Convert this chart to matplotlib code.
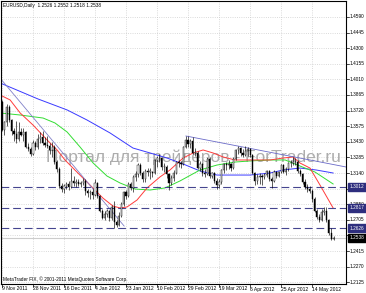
import matplotlib
matplotlib.use("Agg")
import matplotlib.pyplot as plt
from matplotlib.patches import Rectangle
import matplotlib.transforms as mtrans

# ---------------- data ----------------
opens = [1.3800,1.3540,1.3610,1.3750,1.3630,1.3530,1.3500,1.3460,1.3520,1.3490,
         1.3520,1.3380,1.3360,1.3320,1.3420,1.3380,1.3460,1.3470,1.3420,1.3400,
         1.3390,1.3350,1.3380,1.3240,1.3180,1.3020,1.2990,1.3020,1.3040,1.3010,
         1.3070,1.3050,1.3060,1.3040,1.3050,1.3070,1.2970,1.2950,1.2960,1.2940,
         1.3050,1.2930,1.2790,1.2720,1.2760,1.2790,1.2720,1.2820,1.2680,1.2660,
         1.2740,1.2850,1.2960,1.2930,1.3040,1.3000,1.3100,1.3130,1.3210,1.3140,
         1.3080,1.3160,1.3150,1.3150,1.3140,1.3260,1.3280,1.3280,1.3200,1.3200,
         1.3130,1.3050,1.3090,1.3140,1.3240,1.3230,1.3220,1.3380,1.3450,1.3410,
         1.3440,1.3330,1.3330,1.3190,1.3220,1.3140,1.3130,1.3270,1.3110,1.3140,
         1.3070,1.3030,1.3060,1.3170,1.3220,1.3210,1.3220,1.3190,1.3270,1.3350,
         1.3370,1.3330,1.3310,1.3340,1.3360,1.3310,1.3140,1.3070,1.3100,1.3110,
         1.3100,1.3120,1.3160,1.3080,1.3070,1.3150,1.3110,1.3150,1.3210,1.3150,
         1.3180,1.3230,1.3230,1.3240,1.3240,1.3160,1.3130,1.3060,1.3010,1.2990,
         1.2970,1.2900,1.2790,1.2730,1.2700,1.2780,1.2790,1.2700,1.2580,1.2526]
highs = [1.3815,1.3620,1.3780,1.3770,1.3640,1.3560,1.3620,1.3610,1.3560,1.3560,
         1.3530,1.3420,1.3380,1.3450,1.3440,1.3500,1.3520,1.3530,1.3470,1.3480,
         1.3420,1.3430,1.3400,1.3260,1.3200,1.3050,1.3040,1.3060,1.3070,1.3190,
         1.3110,1.3080,1.3080,1.3070,1.3090,1.3080,1.2990,1.2980,1.2990,1.3080,
         1.3060,1.2940,1.2810,1.2790,1.2810,1.2800,1.2840,1.2880,1.2700,1.2780,
         1.2870,1.2970,1.2980,1.3060,1.3060,1.3120,1.3160,1.3230,1.3230,1.3160,
         1.3180,1.3190,1.3190,1.3160,1.3270,1.3300,1.3320,1.3290,1.3230,1.3210,
         1.3140,1.3120,1.3170,1.3250,1.3260,1.3250,1.3390,1.3480,1.3480,1.3460,
         1.3470,1.3370,1.3340,1.3250,1.3230,1.3180,1.3290,1.3290,1.3150,1.3150,
         1.3090,1.3080,1.3180,1.3230,1.3240,1.3260,1.3230,1.3290,1.3360,1.3390,
         1.3380,1.3360,1.3390,1.3380,1.3370,1.3320,1.3150,1.3130,1.3140,1.3130,
         1.3140,1.3170,1.3170,1.3100,1.3170,1.3160,1.3160,1.3220,1.3220,1.3200,
         1.3240,1.3260,1.3290,1.3280,1.3260,1.3180,1.3140,1.3080,1.3040,1.3020,
         1.2990,1.2920,1.2810,1.2760,1.2810,1.2820,1.2820,1.2710,1.2625,1.2552]
lows = [1.3530,1.3490,1.3580,1.3610,1.3490,1.3440,1.3420,1.3440,1.3480,1.3440,
        1.3370,1.3340,1.3300,1.3310,1.3350,1.3360,1.3420,1.3400,1.3380,1.3370,
        1.3320,1.3290,1.3220,1.3150,1.3000,1.2960,1.2950,1.2990,1.2980,1.3000,
        1.3020,1.3010,1.3020,1.3010,1.3030,1.2940,1.2920,1.2900,1.2900,1.2930,
        1.2910,1.2780,1.2710,1.2700,1.2730,1.2690,1.2700,1.2630,1.2640,1.2650,
        1.2730,1.2830,1.2900,1.2920,1.2980,1.2960,1.3070,1.3100,1.3120,1.3060,
        1.3060,1.3110,1.3080,1.3100,1.3130,1.3200,1.3240,1.3170,1.3150,1.3090,
        1.2980,1.3030,1.3070,1.3130,1.3200,1.3190,1.3210,1.3370,1.3380,1.3370,
        1.3320,1.3300,1.3180,1.3160,1.3110,1.3100,1.3120,1.3090,1.3090,1.3050,
        1.2990,1.3000,1.3040,1.3140,1.3170,1.3180,1.3160,1.3180,1.3260,1.3320,
        1.3300,1.3290,1.3300,1.3300,1.3290,1.3130,1.3030,1.3040,1.3040,1.3030,
        1.3080,1.3100,1.3070,1.3000,1.3060,1.3090,1.3100,1.3140,1.3140,1.3120,
        1.3160,1.3200,1.3210,1.3210,1.3140,1.3110,1.3040,1.2990,1.2960,1.2950,
        1.2870,1.2780,1.2710,1.2680,1.2690,1.2750,1.2680,1.2560,1.2516,1.2518]
closes = [1.3540,1.3610,1.3750,1.3630,1.3530,1.3500,1.3460,1.3520,1.3490,1.3520,
          1.3380,1.3360,1.3320,1.3420,1.3380,1.3460,1.3470,1.3420,1.3400,1.3390,
          1.3350,1.3380,1.3240,1.3180,1.3020,1.2990,1.3020,1.3040,1.3010,1.3070,
          1.3050,1.3060,1.3040,1.3050,1.3070,1.2970,1.2950,1.2960,1.2940,1.3050,
          1.2930,1.2790,1.2720,1.2760,1.2790,1.2720,1.2820,1.2680,1.2660,1.2740,
          1.2850,1.2960,1.2930,1.3040,1.3000,1.3100,1.3130,1.3210,1.3140,1.3080,
          1.3160,1.3150,1.3150,1.3140,1.3260,1.3280,1.3280,1.3200,1.3200,1.3130,
          1.3050,1.3090,1.3140,1.3240,1.3230,1.3220,1.3380,1.3450,1.3410,1.3440,
          1.3330,1.3330,1.3190,1.3220,1.3140,1.3130,1.3270,1.3110,1.3140,1.3070,
          1.3030,1.3060,1.3170,1.3220,1.3210,1.3220,1.3190,1.3270,1.3350,1.3370,
          1.3330,1.3310,1.3340,1.3360,1.3310,1.3140,1.3070,1.3100,1.3110,1.3100,
          1.3120,1.3160,1.3080,1.3070,1.3150,1.3110,1.3150,1.3210,1.3150,1.3180,
          1.3230,1.3230,1.3240,1.3240,1.3160,1.3130,1.3060,1.3010,1.2990,1.2970,
          1.2900,1.2790,1.2730,1.2700,1.2780,1.2790,1.2700,1.2580,1.2526,1.2538]

# moving averages, sampled (bar index, price)
ma_red_x = [-0.8, 3.4, 7.6, 13.0, 18.9, 23.1, 26.4, 31.4, 36.9, 42.3, 46.5, 49.5, 52.4,
            56.6, 60.8, 66.2, 70.4, 75.9, 80.1, 84.3, 88.5, 92.7, 97.7, 104.0, 112.4,
            117.8, 122.0, 124.9, 129.1, 133.3, 138.8]
ma_red_y = [1.3865, 1.3819, 1.3698, 1.3586, 1.3447, 1.3354, 1.3261, 1.3149, 1.3028,
            1.2907, 1.2833, 1.2815, 1.2824, 1.2889, 1.3001, 1.3103, 1.3168, 1.3279,
            1.3326, 1.3354, 1.3326, 1.3289, 1.3261, 1.3261, 1.3261, 1.3279, 1.3289,
            1.3233, 1.3186, 1.3028, 1.2815]
ma_green_x = [-0.8, 7.6, 17.2, 22.2, 27.3, 32.7, 38.2, 44.0, 49.5, 55.8, 62.1, 68.3,
              74.6, 83.0, 90.1, 97.7, 104.0, 112.4, 118.7, 124.9, 131.2, 138.8]
ma_green_y = [1.3698, 1.3679, 1.3651, 1.3605, 1.3521, 1.3382, 1.3233, 1.3112, 1.3047,
              1.2991, 1.2982, 1.3001, 1.3066, 1.3168, 1.3214, 1.3242, 1.3252, 1.3261,
              1.3261, 1.3205, 1.3149, 1.3038]
ma_blue_x = [-0.8, 15.1, 27.3, 35.6, 45.3, 54.9, 62.1, 69.2, 75.9, 83.0, 90.1, 104.0,
             112.4, 117.8, 124.9, 131.7, 138.8]
ma_blue_y = [1.3977, 1.3828, 1.3726, 1.3633, 1.3512, 1.3372, 1.3326, 1.3279, 1.3224,
             1.3159, 1.3121, 1.3121, 1.3140, 1.3168, 1.3186, 1.3168, 1.3140]

trend1_x = [-0.84, 51.2]
trend1_y = [1.4023, 1.2647]
trend2_x = [77.1, 144.2]
trend2_y = [1.3484, 1.3196]

levels = [1.3012, 1.2817, 1.2626]
level_labels = ["1.3012", "1.2817", "1.2626"]
bid = 1.2538
bid_label = "1.2538"

grid_y = [1.4590, 1.4445, 1.4300, 1.4155, 1.4010, 1.3865, 1.3720, 1.3575, 1.3430,
          1.3285, 1.3140, 1.2995, 1.2850, 1.2705, 1.2560, 1.2415, 1.2270, 1.2125]
# labels visible in the reference (1.2995 and 1.2560 are hidden under price boxes)
ytick_vals = [1.4590, 1.4445, 1.4300, 1.4155, 1.4010, 1.3865, 1.3720, 1.3575, 1.3430,
              1.3285, 1.3140, 1.2850, 1.2705, 1.2415, 1.2270, 1.2125]
ytick_labels = ["1.4590", "1.4445", "1.4300", "1.4155", "1.4010", "1.3865", "1.3720",
                "1.3575", "1.3430", "1.3285", "1.3140", "1.2850", "1.2705",
                "1.2415", "1.2270", "1.2125"]
xtick_idx = [0, 13, 26, 39, 52, 65, 78, 91, 104, 117, 130]
xtick_labels = ["9 Nov 2011", "28 Nov 2011", "16 Dec 2011", "4 Jan 2012", "23 Jan 2012",
                "10 Feb 2012", "29 Feb 2012", "19 Mar 2012", "6 Apr 2012", "25 Apr 2012",
                "14 May 2012"]

header = "EURUSD,Daily  1.2526 1.2552 1.2518 1.2538"
footer = "MetaTrader FIX, \u00a9 2001-2011 MetaQuotes Software Corp."
watermark = "Портал для трейдеров - ForTrader.ru"

# ---------------- figure ----------------
W, H = 366, 293
fig = plt.figure(figsize=(W / 100, H / 100), dpi=100)
fig.patch.set_facecolor("white")
left_px, right_px, top_px, bot_px = 1, 346, 1, 284
ax = fig.add_axes([left_px / W, 1 - bot_px / H, (right_px - left_px) / W, (bot_px - top_px) / H])
ax.set_xlim(-0.42, 144.2)
ax.set_ylim(1.21083, 1.47387)
ax.set_xticks([])
ax.set_yticks([])
for s in ax.spines.values():
    s.set_linewidth(0.8)
    s.set_color("black")

FONT = "Liberation Sans"
fs_y = 3.4
fs_x = 3.65
fs_txt = 3.4
grid_col = "#c4c4c4"
for v in grid_y:
    ax.axhline(v, color=grid_col, lw=0.5, ls=(0, (1.2, 2.0)), zorder=0)
for i in xtick_idx:
    ax.axvline(i, color=grid_col, lw=0.5, ls=(0, (1.2, 2.0)), zorder=0)

# watermark
ax.text(18.5, 1.3290, watermark, fontsize=12.5, family=FONT, color="#adadad",
        ha="left", va="center", zorder=1)

# bid line
ax.axhline(bid, color="#cccccc", lw=0.8, zorder=1)

# moving averages
ax.plot(ma_blue_x, ma_blue_y, color="#3a3aff", lw=0.7, zorder=2)
ax.plot(ma_green_x, ma_green_y, color="#33dd33", lw=0.7, zorder=2)
ax.plot(ma_red_x, ma_red_y, color="#ff3b3b", lw=0.7, zorder=2)

# trend lines
ax.plot(trend1_x, trend1_y, color="#8080c8", lw=0.6, zorder=2)
ax.plot(trend2_x, trend2_y, color="#6a6ac8", lw=0.6, zorder=2)

# horizontal dashed levels
for v in levels:
    ax.axhline(v, color="#45458f", lw=0.8, ls=(0, (7, 3.5)), zorder=2)

# candles
bw = 0.5
for i in range(len(closes)):
    o, h, l, c = opens[i], highs[i], lows[i], closes[i]
    ax.vlines(i, l, h, color="black", lw=0.45, zorder=3)
    lo, hi = min(o, c), max(o, c)
    if hi - lo < 0.0004:
        hi = lo + 0.0004
    face = "white" if c >= o else "black"
    ax.add_patch(Rectangle((i - bw / 2, lo), bw, hi - lo, facecolor=face,
                           edgecolor="black", lw=0.3, zorder=4))

# axis labels on the right
ytr = mtrans.blended_transform_factory(fig.transFigure, ax.transData)
tick_tr = mtrans.blended_transform_factory(ax.transAxes, ax.transData)
for v in grid_y:
    ax.plot([1.0, 1.0 + 2.5 / (right_px - left_px)], [v, v], color="black", lw=0.5,
            transform=tick_tr, clip_on=False)
for v, t in zip(ytick_vals, ytick_labels):
    fig.text(349.5 / W, v, t, transform=ytr, fontsize=fs_y, family=FONT, ha="left",
             va="center", color="black", zorder=5)

def price_box(v, t, col):
    fig.text(349.5 / W, v, t, transform=ytr, fontsize=fs_y, family=FONT, ha="left",
             va="center", color="white", zorder=10,
             bbox=dict(boxstyle="square,pad=0.35", facecolor=col, edgecolor=col))

for v, t in zip(levels, level_labels):
    price_box(v, t, "#2e2e7e")
price_box(bid, bid_label, "black")

# x labels
xtr = mtrans.blended_transform_factory(ax.transData, fig.transFigure)
xt_tr = mtrans.blended_transform_factory(ax.transData, ax.transAxes)
for i, t in zip(xtick_idx, xtick_labels):
    ax.plot([i, i], [0, -2.5 / (bot_px - top_px)], color="black", lw=0.5,
            transform=xt_tr, clip_on=False)
    fig.text(i, 1 - 289 / H, t, transform=xtr, fontsize=fs_x, family=FONT,
             ha="left", va="center", color="black")

fig.text(3 / W, 1 - 6 / H, header, fontsize=fs_txt, family=FONT, ha="left", va="center")
fig.text(3 / W, 1 - 279 / H, footer, fontsize=fs_txt, family=FONT, ha="left", va="center")

fig.savefig("out.png", dpi=100, facecolor="white")
